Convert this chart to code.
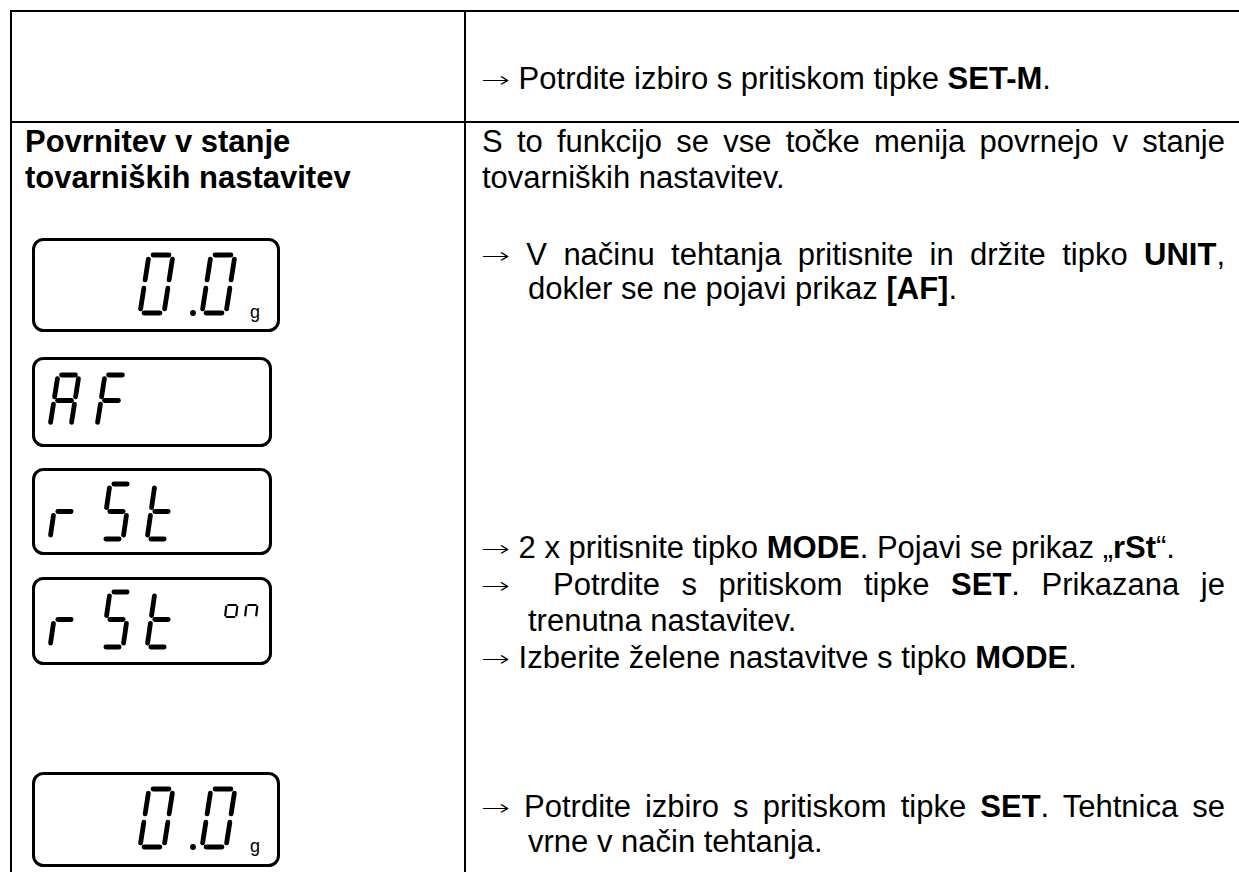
<!DOCTYPE html>
<html><head><meta charset="utf-8">
<script src="https://cdn.jsdelivr.net/npm/chart.js@4/dist/chart.umd.min.js"></script>
<style>
html,body{margin:0;padding:0;background:#fff;width:1239px;height:872px;overflow:hidden;}
#page{position:relative;width:1239px;height:872px;}
.ln{position:absolute;height:36px;line-height:36px;font-family:"Liberation Sans",Arial,sans-serif;font-size:31px;color:#000;white-space:nowrap;}
.j{text-align:justify;text-align-last:justify;white-space:normal;}
.bl{font-weight:bold;}
.ar{display:inline-block;font-family:"DejaVu Sans",sans-serif;font-weight:200;font-size:31px;transform:scale(1.12,0.7);transform-origin:0 60%;margin-right:3px;}
.rule{position:absolute;background:#000;}
svg{position:absolute;left:0;top:0;}
</style></head>
<body><div id="page">
<div class="rule" style="left:10px;top:10px;width:1250px;height:2px"></div>
<div class="rule" style="left:10px;top:10px;width:2px;height:880px"></div>
<div class="rule" style="left:464px;top:10px;width:2px;height:880px"></div>
<div class="rule" style="left:10px;top:121px;width:1250px;height:2px"></div>

<div class="ln" style="left:481px;top:60px"><span class="ar">→</span> Potrdite izbiro s pritiskom tipke <b>SET-M</b>.</div>
<div class="ln bl" style="left:25px;top:124px">Povrnitev v stanje</div>
<div class="ln bl" style="left:25px;top:160px">tovarniških nastavitev</div>
<div class="ln j" style="left:482px;top:124px;width:743px">S to funkcijo se vse točke menija povrnejo v stanje</div>
<div class="ln" style="left:482px;top:160px">tovarniških nastavitev.</div>
<div class="ln j" style="left:481px;top:236px;width:744px"><span class="ar">→</span> V načinu tehtanja pritisnite in držite tipko <b>UNIT</b>,</div>
<div class="ln" style="left:528px;top:271px">dokler se ne pojavi prikaz <b>[AF]</b>.</div>
<div class="ln" style="left:481px;top:529px"><span class="ar">→</span> 2 x pritisnite tipko <b>MODE</b>. Pojavi se prikaz „<b>rSt</b>“.</div>
<div class="ln j" style="left:481px;top:566px;width:744px"><span class="ar">→</span> &nbsp;Potrdite s pritiskom tipke <b>SET</b>. Prikazana je</div>
<div class="ln" style="left:528px;top:603px">trenutna nastavitev.</div>
<div class="ln" style="left:481px;top:639px"><span class="ar">→</span> Izberite želene nastavitve s tipko <b>MODE</b>.</div>
<div class="ln j" style="left:481px;top:788px;width:744px"><span class="ar">→</span> Potrdite izbiro s pritiskom tipke <b>SET</b>. Tehtnica se</div>
<div class="ln" style="left:528px;top:824px">vrne v način tehtanja.</div>

<svg id="lcd" width="1239" height="872"></svg>
</div>
<script>
// Display readings shown on the scale's LCD
const readings = ["0.0", "AF", "rSt", "rSt", "0.0"];
const units = ["g", "", "", "on", "g"];

const SEG = {"0":"abcdef","A":"abcefg","F":"aefg","r":"eg","S":"afgcd","t":"fegd","o":"cdeg","n":"ceg"};
// box geometry (layout only)
const boxes = [
  {x:33.5,y:239.5,w:245,h:91, cx:[140,202], top:255, ch:58, cw:24, s:9, dot:[193,313], ux:250, uy:318},
  {x:33.5,y:358.5,w:237,h:87, cx:[50,97], top:375, ch:51, cw:21, s:8},
  {x:33.5,y:469.5,w:237,h:84, cx:[50,102,147], top:484, ch:55, cw:21, s:8},
  {x:33.5,y:578.5,w:237,h:85, cx:[50,102,147], top:592, ch:55, cw:21, s:8, ux:225, uy:593},
  {x:33.5,y:773.5,w:245,h:92, cx:[140,202], top:789, ch:58, cw:24, s:9, dot:[193,847], ux:250, uy:852}
];
const svg = document.getElementById('lcd');
const NS = "http://www.w3.org/2000/svg";
function el(tag, attrs){const e=document.createElementNS(NS,tag);for(const k in attrs)e.setAttribute(k,attrs[k]);svg.appendChild(e);return e;}
function drawChar(c,x0,y0,w,h,s,sw){
  const g=Math.max(1.5,h*0.07);
  const P=(x,y)=>[x0+x+s*(1-y/h), y0+y];
  const segs={a:[[g,0],[w-g,0]],b:[[w,g],[w,h/2-g]],c:[[w,h/2+g],[w,h-g]],d:[[g,h],[w-g,h]],e:[[0,h/2+g],[0,h-g]],f:[[0,g],[0,h/2-g]],g:[[g,h/2],[w-g,h/2]]};
  for(const k of SEG[c]||""){
    const [p1,p2]=segs[k];const a=P(...p1),b=P(...p2);
    el('line',{x1:a[0],y1:a[1],x2:b[0],y2:b[1],stroke:'#000','stroke-width':sw,'stroke-linecap':'round'});
  }
}
readings.forEach((txt,i)=>{
  const b=boxes[i];
  el('rect',{x:b.x,y:b.y,width:b.w,height:b.h,rx:10,ry:10,fill:'none',stroke:'#000','stroke-width':3});
  const chars=txt.replace('.','').split('');
  chars.forEach((c,k)=>drawChar(c,b.cx[k],b.top,b.cw,b.ch,b.s,4.8));
  if(txt.includes('.')) el('circle',{cx:b.dot[0],cy:b.dot[1],r:2.9,fill:'#000'});
  const u=units[i];
  if(u==='g'){
    const t=el('text',{x:b.ux,y:b.uy,'font-family':'Liberation Sans, Arial','font-size':18,fill:'#000'});
    t.textContent='g';
  } else if(u==='on'){
    let ux=b.ux;
    for(const c of u){drawChar(c,ux,b.uy,11,24,3,2.2);ux+=20;}
  }
});
</script>
</body></html>
